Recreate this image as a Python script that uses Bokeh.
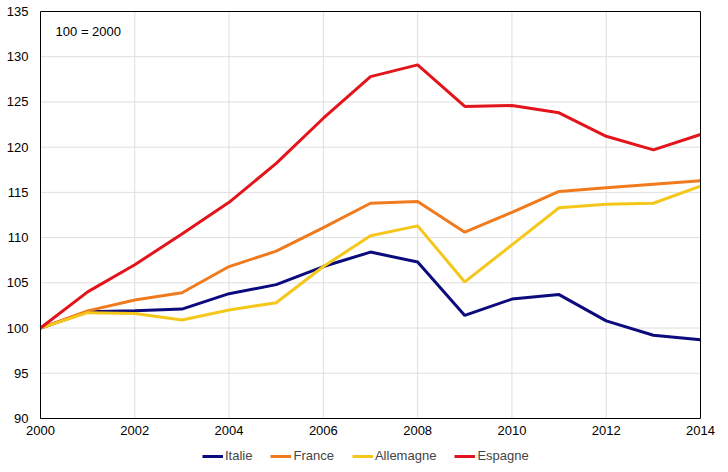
from bokeh.plotting import figure
from bokeh.models import Legend, LegendItem, FixedTicker, Label, LinearAxis
from bokeh.embed import file_html
from bokeh.resources import INLINE

years = list(range(2000, 2015))
italie = [100, 101.8, 101.9, 102.1, 103.8, 104.8, 106.8, 108.4, 107.3, 101.4, 103.2, 103.7, 100.8, 99.2, 98.7]
france = [100, 101.9, 103.1, 103.9, 106.8, 108.5, 111.1, 113.8, 114.0, 110.6, 112.8, 115.1, 115.5, 115.9, 116.3]
allemagne = [100, 101.7, 101.6, 100.9, 102.0, 102.8, 106.8, 110.2, 111.3, 105.1, 109.2, 113.3, 113.7, 113.8, 115.7]
espagne = [100, 104.0, 107.0, 110.4, 113.9, 118.2, 123.2, 127.8, 129.1, 124.5, 124.6, 123.8, 121.2, 119.7, 121.4]

series_names = ["Italie", "France", "Allemagne", "Espagne"]
series_values = [italie, france, allemagne, espagne]
series_colors = ["#0b0b7d", "#f07b1e", "#f5c71a", "#e3141b"]

x_ticks = list(range(2000, 2015, 2))
y_ticks = list(range(90, 136, 5))
note_text = "100 = 2000"

FONT = "Liberation Sans"

# layout: plot box 660 x 407 px, with padding inside the frame for labels and legend
X_MIN, X_MAX = years[0], years[-1]
Y_MIN, Y_MAX = y_ticks[0], y_ticks[-1]
BOX_W, BOX_H = 660, 407
PAD_L, PAD_R, PAD_T, PAD_B = 38, 18, 9, 51
px_per_year = BOX_W / (X_MAX - X_MIN)
px_per_unit = BOX_H / (Y_MAX - Y_MIN)

p = figure(frame_width=BOX_W + PAD_L + PAD_R, frame_height=BOX_H + PAD_T + PAD_B,
           x_range=(X_MIN - PAD_L / px_per_year, X_MAX + PAD_R / px_per_year),
           y_range=(Y_MIN - PAD_B / px_per_unit, Y_MAX + PAD_T / px_per_unit),
           x_axis_location=None, y_axis_location=None,
           output_backend="svg", toolbar_location=None,
           min_border_top=2, min_border_right=2, min_border_bottom=0, min_border_left=2)
p.background_fill_color = "white"
p.border_fill_color = "white"
p.outline_line_color = None
p.xgrid.visible = False
p.ygrid.visible = False


def style_axis(ax):
    ax.major_tick_in = 0
    ax.major_tick_out = 0
    ax.minor_tick_in = 0
    ax.minor_tick_out = 0
    ax.axis_line_color = "black"
    ax.axis_line_width = 1
    ax.major_label_text_font = FONT
    ax.major_label_text_font_size = "13px"
    ax.major_label_text_color = "black"


# grid lines at the ticks, spanning the 2000..2014 x 90..135 box
p.segment(x0=x_ticks, y0=[Y_MIN] * len(x_ticks), x1=x_ticks, y1=[Y_MAX] * len(x_ticks),
          line_color="#dedede", line_width=1)
p.segment(x0=[X_MIN] * len(y_ticks), y0=y_ticks, x1=[X_MAX] * len(y_ticks), y1=y_ticks,
          line_color="#dedede", line_width=1)

xaxis = LinearAxis(ticker=FixedTicker(ticks=x_ticks), fixed_location=Y_MIN, bounds=(X_MIN, X_MAX))
style_axis(xaxis)
xaxis.major_label_standoff = 7
p.add_layout(xaxis, "below")

yaxis = LinearAxis(ticker=FixedTicker(ticks=y_ticks), fixed_location=X_MIN, bounds=(Y_MIN, Y_MAX))
style_axis(yaxis)
yaxis.major_label_standoff = 12
p.add_layout(yaxis, "left")

top_axis = LinearAxis(ticker=FixedTicker(ticks=[]), fixed_location=Y_MAX, bounds=(X_MIN, X_MAX))
style_axis(top_axis)
top_axis.major_label_text_font_size = "0px"
top_axis.major_label_standoff = 0
p.add_layout(top_axis, "above")

right_axis = LinearAxis(ticker=FixedTicker(ticks=[]), fixed_location=X_MAX, bounds=(Y_MIN, Y_MAX))
style_axis(right_axis)
right_axis.major_label_text_font_size = "0px"
right_axis.major_label_standoff = 0
p.add_layout(right_axis, "right")

items = []
for name, vals, col in zip(series_names, series_values, series_colors):
    r = p.line(years, vals, line_color=col, line_width=3)
    items.append(LegendItem(label=name, renderers=[r]))

legend = Legend(items=items, orientation="horizontal", location=(200, 6),
                label_text_font=FONT, label_text_font_size="13px",
                glyph_width=21, glyph_height=12, label_standoff=2, spacing=18,
                padding=0, margin=0, border_line_color=None,
                background_fill_alpha=0, label_height=12)
p.add_layout(legend)

p.add_layout(Label(x=2000.32, y=132.8, text=note_text, text_font=FONT,
                   text_font_size="13px", text_baseline="middle", text_color="black"))

open("out.html", "w").write(file_html(p, INLINE))
